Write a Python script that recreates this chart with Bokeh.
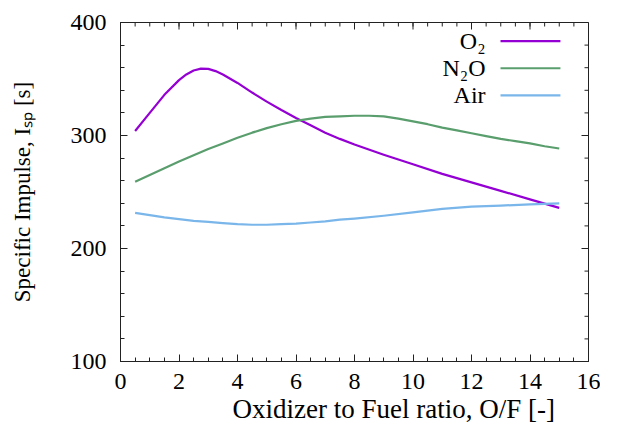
import numpy as np
from bokeh.plotting import figure
from bokeh.models import (SingleIntervalTicker, Range1d, Title, Label)
from bokeh.embed import file_html
from bokeh.resources import INLINE

# ---- data ----
series_names = ["O₂", "N₂O", "Air"]
series_colors = ["#9400D3", "#5a9e6e", "#7ab6ea"]

of_o2 = [0.5, 1.0, 1.5, 2.0, 2.25, 2.5, 2.75, 3.0, 3.25, 3.5, 4.0, 4.5, 5.0,
         5.5, 6.0, 6.5, 7.0, 7.5, 8.0, 9.0, 10.0, 11.0, 12.0, 13.0, 14.0, 15.0]
isp_o2 = [304, 320, 336, 349, 354, 357.5, 359.2, 359, 357, 354, 346.5, 338, 330,
          322.5, 315.5, 309, 302.5, 297, 292, 283, 274.5, 266, 258.5, 251, 243.5,
          236]

of_n2o = [0.5, 1.0, 1.5, 2.0, 2.5, 3.0, 3.5, 4.0, 4.5, 5.0, 5.5, 6.0, 6.5, 7.0,
          7.5, 8.0, 8.5, 9.0, 9.5, 10.0, 10.5, 11.0, 11.5, 12.0, 12.5, 13.0,
          13.5, 14.0, 14.5, 15.0]
isp_n2o = [259, 265, 271, 277, 282.5, 288, 293, 298, 302.5, 306.5, 310, 313,
           315, 316.5, 317, 317.5, 317.5, 317, 315, 312.5, 310, 307, 304.5, 302,
           299.5, 297, 295, 293, 290.5, 288.5]

of_air = [0.5, 1.0, 1.5, 2.0, 2.5, 3.0, 3.5, 4.0, 4.5, 5.0, 5.5, 6.0, 6.5, 7.0,
          7.5, 8.0, 9.0, 10.0, 11.0, 12.0, 13.0, 14.0, 15.0]
isp_air = [231.5, 229.5, 227.5, 226, 224.5, 223.5, 222.5, 221.5, 221, 221, 221.5,
           222, 223, 224, 225.5, 226.5, 229, 232, 235, 237, 238, 239, 240]

x_range = (0, 16)
y_range = (100, 400)
x_major, x_minor_n = 2, 4
y_major, y_minor_n = 100, 5
x_label = "Oxidizer to Fuel ratio, O/F [-]"
y_label = "Specific Impulse, Iₛₚ [s]"

FONT = "Liberation Serif"
AXC = "#222222"
MAJ_IN, MIN_IN = 7, 4

p = figure(width=600, height=424, output_backend="svg", toolbar_location=None,
           x_range=Range1d(*x_range), y_range=Range1d(*y_range),
           min_border_left=120, min_border_right=12, min_border_top=22,
           min_border_bottom=58)
p.background_fill_color = "white"
p.border_fill_color = "white"
p.outline_line_color = AXC
p.outline_line_width = 1
p.xgrid.visible = False
p.ygrid.visible = False

xt = SingleIntervalTicker(interval=x_major, num_minor_ticks=x_minor_n)
yt = SingleIntervalTicker(interval=y_major, num_minor_ticks=y_minor_n)

for ax in (p.xaxis[0], p.yaxis[0]):
    ax.axis_line_color = AXC
    ax.major_tick_line_color = AXC
    ax.minor_tick_line_color = AXC
    ax.major_tick_in = MAJ_IN
    ax.major_tick_out = 0
    ax.minor_tick_in = MIN_IN
    ax.minor_tick_out = 0
    ax.major_label_text_font = FONT
    ax.major_label_text_font_size = "24px"
    ax.major_label_text_color = "black"

p.xaxis.ticker = xt
p.yaxis.ticker = yt
p.xaxis.major_label_standoff = 12
p.yaxis.major_label_standoff = 14
p.yaxis.axis_label = y_label
p.yaxis.axis_label_text_font = FONT
p.yaxis.axis_label_text_font_size = "23px"
p.yaxis.axis_label_text_font_style = "normal"
p.yaxis.axis_label_text_color = "black"
p.yaxis.axis_label_standoff = 33

# mirrored inward ticks on top and right edges (from the same tick spacing)
x_maj_pos = np.arange(x_range[0], x_range[1] + 1e-9, x_major)
x_min_pos = np.arange(x_range[0], x_range[1] + 1e-9, x_major / x_minor_n)
y_maj_pos = np.arange(y_range[0], y_range[1] + 1e-9, y_major)
y_min_pos = np.arange(y_range[0], y_range[1] + 1e-9, y_major / y_minor_n)
p.ray(x=x_min_pos, y=y_range[1], length=MIN_IN, length_units="screen",
      angle=-np.pi / 2, line_color=AXC, line_width=1)
p.ray(x=x_maj_pos, y=y_range[1], length=MAJ_IN, length_units="screen",
      angle=-np.pi / 2, line_color=AXC, line_width=1)
p.ray(x=x_range[1], y=y_min_pos, length=MIN_IN, length_units="screen",
      angle=np.pi, line_color=AXC, line_width=1)
p.ray(x=x_range[1], y=y_maj_pos, length=MAJ_IN, length_units="screen",
      angle=np.pi, line_color=AXC, line_width=1)

xt_title = Title(text=x_label, align="left", offset=112, text_font=FONT,
                 text_font_size="27px", text_font_style="normal",
                 text_color="black", standoff=1)
p.add_layout(xt_title, "below")

xs_all = [of_o2, of_n2o, of_air]
ys_all = [isp_o2, isp_n2o, isp_air]
for xs, ys, c in zip(xs_all, ys_all, series_colors):
    p.line(xs, ys, line_color=c, line_width=2.2, line_join="round")

# ---- legend (text left of sample line, as in the reference) ----
span_x = x_range[1] - x_range[0]
span_y = y_range[1] - y_range[0]
leg_text_x = x_range[0] + 0.78 * span_x
leg_line_x0 = x_range[0] + 0.812 * span_x
leg_line_x1 = x_range[0] + 0.94 * span_x
leg_top = y_range[0] + 0.945 * span_y
leg_step = 0.08 * span_y
for i, (name, c) in enumerate(zip(series_names, series_colors)):
    yy = leg_top - i * leg_step
    p.add_layout(Label(x=leg_text_x, y=yy, text=name, text_align="right",
                       text_baseline="middle", text_font=FONT,
                       text_font_size="24px", text_color="black"))
    p.segment(x0=[leg_line_x0], y0=[yy], x1=[leg_line_x1], y1=[yy],
              line_color=c, line_width=2.2)

open("out.html", "w").write(file_html(p, INLINE))
